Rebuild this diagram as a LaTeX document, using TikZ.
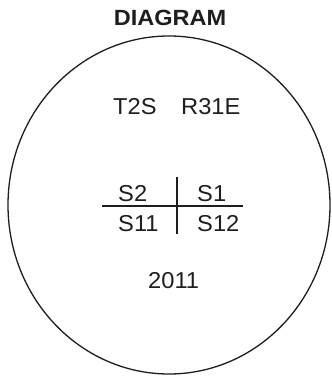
\documentclass[tikz,border=0pt]{standalone}
\usepackage{fontspec}
\setmainfont{Liberation Sans}
\newfontfamily\labfont[FakeStretch=1.03]{Liberation Sans}
\newfontfamily\titlefont[FakeStretch=1.07]{Liberation Sans}
\definecolor{ink}{HTML}{1E1E1E}
\tikzset{
  lab/.style={inner sep=0pt, anchor=base west, text=ink, font=\labfont\fontsize{23}{27}\selectfont},
  rule/.style={draw=ink, line width=1.4pt},
}
\begin{document}
\begin{tikzpicture}[x=1pt,y=1pt]
\useasboundingbox (0,0) rectangle (331,379);
\fill[white] (0,0) rectangle (331,379);
\node[inner sep=0pt, anchor=base, text=ink, font=\titlefont\bfseries\fontsize{22}{26}\selectfont] (title) at (170,353) {DIAGRAM};
\draw[draw=ink, line width=1.3pt] (169,174) ellipse [x radius=161, y radius=169];
\node[lab] (t2s) at (113,264) {T2S};
\node[lab] (r31e) at (181,264) {R31E};
\node[lab] (s2) at (118,177) {S2};
\node[lab] (s1) at (197,177) {S1};
\node[lab] (s11) at (118,147) {S11};
\node[lab] (s12) at (197,147) {S12};
\coordinate (hl) at (102,173);
\coordinate (hr) at (243,173);
\coordinate (vt) at (177,202);
\coordinate (vb) at (177,145);
\draw[rule] (hl) -- (hr);
\draw[rule] (vt) -- (vb);
\node[lab] (year) at (148,90) {2011};
\end{tikzpicture}
\end{document}
